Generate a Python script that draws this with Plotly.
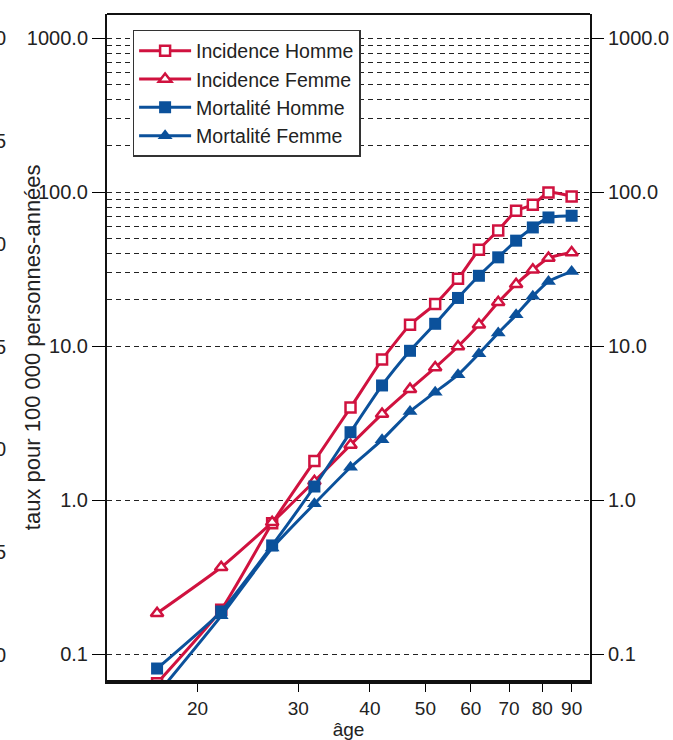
import numpy as np
import plotly.graph_objects as go

# Age-group centres (years) and rates per 100 000 person-years
ages = [17, 22, 27, 32, 37, 42, 47, 52, 57, 62, 67, 72, 77, 82, 90]

incidence_homme = [0.065, 0.195, 0.71, 1.80, 4.0, 8.2, 13.8, 18.8, 27.4, 42.4, 56.5, 75.8, 83.0, 99.7, 94.0]
incidence_femme = [0.185, 0.368, 0.72, 1.33, 2.29, 3.63, 5.27, 7.28, 9.97, 13.8, 19.3, 25.3, 31.4, 37.4, 40.6]
mortalite_homme = [0.081, 0.19, 0.51, 1.23, 2.77, 5.57, 9.35, 14.0, 20.6, 28.7, 37.8, 48.5, 59.1, 68.6, 70.4]
mortalite_femme = [0.055, 0.178, 0.49, 0.95, 1.64, 2.47, 3.77, 5.04, 6.53, 8.94, 12.2, 16.0, 21.1, 26.3, 30.6]

x_ticks = [20, 30, 40, 50, 60, 70, 80, 90]
y_major = [0.1, 1, 10, 100, 1000]
y_major_text = ["0.1", "1.0", "10.0", "100.0", "1000.0"]
y_minor = [20, 30, 40, 50, 60, 70, 80, 90, 200, 300, 400, 500, 600, 700, 800, 900]

# trailing digits of the neighbouring panel's axis labels, top to bottom
edge_labels = ["0", "5", "0", "5", "0", "5", "0"]

RED = "#d0123f"
BLUE = "#0b519b"
FONT = "Liberation Sans, Arial, sans-serif"
TXT = "#222222"

series = [
    ("Incidence Homme", incidence_homme, RED, dict(symbol="square", size=10, color="white", line=dict(color=RED, width=2.5))),
    ("Incidence Femme", incidence_femme, RED, dict(symbol="triangle-up", size=11, color="white", line=dict(color=RED, width=2.5))),
    ("Mortalité Homme", mortalite_homme, BLUE, dict(symbol="square", size=12, color=BLUE, line=dict(color=BLUE, width=0))),
    ("Mortalité Femme", mortalite_femme, BLUE, dict(symbol="triangle-up", size=13, color=BLUE, line=dict(color=BLUE, width=0))),
]

fig = go.Figure()
for name, vals, col, mk in series:
    fig.add_trace(go.Scatter(
        x=ages, y=vals, name=name, mode="lines+markers",
        line=dict(color=col, width=3, shape="spline", smoothing=0.5),
        marker=mk, cliponaxis=True,
    ))

# invisible trace carrying the mirrored right-hand axis
fig.add_trace(go.Scatter(x=ages, y=incidence_homme, yaxis="y2", mode="lines",
                         line=dict(width=0), opacity=0, showlegend=False, hoverinfo="skip"))

lo_x, hi_x = np.log10(13.9), np.log10(96.9)
lo_y, hi_y = -1.166, 3.157

grid = dict(gridcolor="#222222", gridwidth=1, griddash="5px,4px")

fig.update_layout(
    width=673, height=740,
    margin=dict(l=107, r=83, t=14, b=60),
    paper_bgcolor="white", plot_bgcolor="white",
    font=dict(family=FONT, size=19, color=TXT),
    showlegend=True,
    legend=dict(
        x=0.053, y=0.976, xanchor="left", yanchor="top",
        bgcolor="white", bordercolor="#333333", borderwidth=1.5,
        font=dict(family=FONT, size=19.5, color=TXT),
        itemwidth=52,
    ),
    xaxis=dict(
        type="log", range=[lo_x, hi_x], automargin=False,
        tickvals=x_ticks, ticktext=[str(v) for v in x_ticks],
        ticks="outside", ticklen=8, tickwidth=1, tickcolor="black",
        showline=True, linewidth=4, linecolor="#111111", mirror=False,
        showgrid=False, zeroline=False,
        tickfont=dict(family=FONT, size=19, color=TXT),
        title=dict(text="âge", font=dict(family=FONT, size=19, color=TXT), standoff=2),
    ),
    yaxis=dict(
        type="log", range=[lo_y, hi_y], automargin=False,
        tickvals=y_major, ticktext=y_major_text,
        ticks="outside", ticklen=13, tickwidth=1, tickcolor="black",
        showline=True, linewidth=2, linecolor="#111111", mirror=True,
        showgrid=True, zeroline=False, **grid,
        minor=dict(tickvals=y_minor, showgrid=True, ticks="", **grid),
        tickfont=dict(family=FONT, size=20, color=TXT),
    ),
    yaxis2=dict(
        type="log", range=[lo_y, hi_y], overlaying="y", side="right", anchor="x",
        automargin=False,
        tickvals=y_major, ticktext=y_major_text,
        ticks="outside", ticklen=13, tickwidth=1, tickcolor="black",
        showline=False, showgrid=False, zeroline=False,
        tickfont=dict(family=FONT, size=20, color=TXT),
    ),
)

# top edge of the frame
fig.add_shape(type="line", xref="paper", yref="paper", x0=0, x1=1, y0=1, y1=1,
              line=dict(color="#111111", width=2))

# rotated y-axis title
fig.add_annotation(
    text="taux pour 100 000 personnes-années", textangle=-90,
    xref="paper", yref="paper", x=-0.155, y=0.5, xanchor="center", yanchor="middle",
    showarrow=False, font=dict(family="Liberation Sans Narrow, Liberation Sans, sans-serif", size=22, color=TXT),
)

# partly hidden labels at the far left edge
n = len(edge_labels)
for k, t in enumerate(edge_labels):
    fig.add_annotation(
        text=t, xref="paper", yref="paper", x=-0.205, y=(642 - k * 617 / (n - 1)) / 666,
        xanchor="right", yanchor="middle", showarrow=False,
        font=dict(family=FONT, size=20, color=TXT),
    )

fig.write_html("out.html")
